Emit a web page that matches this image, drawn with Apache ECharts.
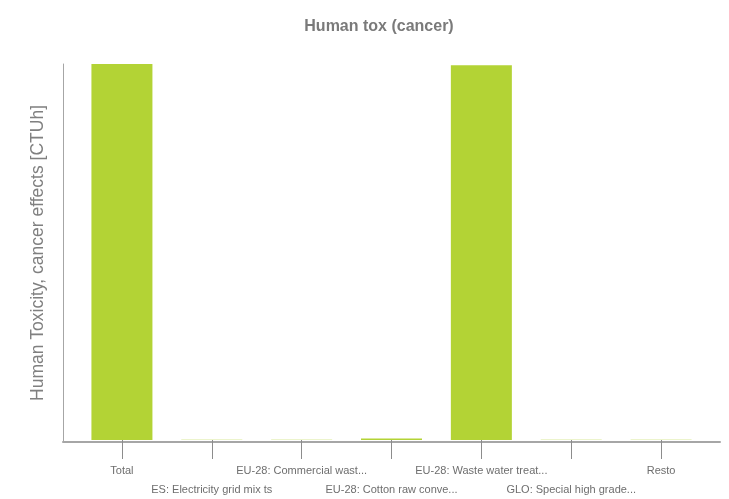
<!DOCTYPE html>
<html><head><meta charset="utf-8">
<script src="https://cdn.jsdelivr.net/npm/echarts@6/dist/echarts.min.js"></script>
<style>html,body{margin:0;padding:0;background:#fff}#c{width:729px;height:499px}</style>
</head><body><div id="c"></div>
<script>
var categories = ['Total', 'ES: Electricity grid mix ts', 'EU-28: Commercial wast...', 'EU-28: Cotton raw conve...', 'EU-28: Waste water treat...', 'GLO: Special high grade...', 'Resto'];
var values = [1.0, 0.0008, 0.0008, 0.004, 0.997, 0.0008, 0.0008];
var titleText = 'Human tox (cancer)';
var yName = 'Human Toxicity, cancer effects [CTUh]';

var chart = echarts.init(document.getElementById('c'), null, {renderer: 'canvas'});
chart.setOption({
  animation: false,
  backgroundColor: '#fff',
  title: {
    text: titleText, left: 374, top: 14, textAlign: 'center',
    textStyle: {fontFamily: 'Liberation Sans', fontSize: 16, fontWeight: 'bold', color: '#7a7a7a'}
  },
  grid: [
    {left: 63, right: 9, top: 64, bottom: 57},
    {left: 77, right: 23, top: 64, bottom: 57}
  ],
  xAxis: [
    {gridIndex: 0, type: 'category', data: [''], axisLabel: {show: false}, axisTick: {show: false},
     axisLine: {lineStyle: {color: '#a6a6a6', width: 2}}},
    {gridIndex: 1, type: 'category', data: categories,
     axisLine: {show: false},
     axisTick: {show: true, alignWithLabel: true, length: 19, lineStyle: {color: '#8c8c8c', width: 1}},
     axisLabel: {interval: 0, margin: 21, lineHeight: 19, color: '#6e6e6e', fontFamily: 'Liberation Sans', fontSize: 11,
       formatter: function (v, i) { return i % 2 === 1 ? '\n' + v : v; }}}
  ],
  yAxis: [
    {gridIndex: 0, type: 'value', min: 0, max: 1, axisLabel: {show: false}, splitLine: {show: false}, axisTick: {show: false},
     axisLine: {show: true, lineStyle: {color: '#a6a6a6', width: 1}},
     name: yName, nameLocation: 'middle', nameGap: 16,
     nameTextStyle: {fontFamily: 'Liberation Sans', fontSize: 17.5, color: '#808080'}},
    {gridIndex: 1, type: 'value', min: 0, max: 1, show: false, splitLine: {show: false}}
  ],
  series: [{
    type: 'bar', xAxisIndex: 1, yAxisIndex: 1, data: values, barWidth: 61,
    itemStyle: {color: '#b3d335'}
  }]
});
</script></body></html>
